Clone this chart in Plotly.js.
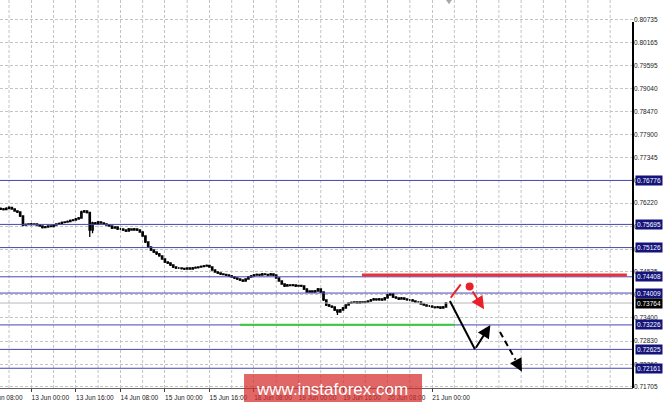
<!DOCTYPE html>
<html><head><meta charset="utf-8">
<script src="https://cdn.plot.ly/plotly-3.0.1.min.js"></script>
<style>html,body{margin:0;padding:0;background:#fff}#chart{width:665px;height:405px}</style>
</head><body><div id="chart"></div>
<script>
// ---- data (H1 bars) ----
const firstBar = '2018-06-12 13:00';
const openP = [
0.76086,0.76074,0.76062,0.76086,0.76111,0.76074,0.76025,0.76000,0.75902,0.75681,
0.75693,0.75706,0.75693,0.75706,0.75681,0.75656,0.75619,0.75632,0.75656,0.75644,
0.75681,0.75706,0.75718,0.75743,0.75755,0.75767,0.75792,0.75804,0.75828,0.75853,
0.76000,0.76025,0.75988,0.75558,0.75730,0.75706,0.75755,0.75730,0.75706,0.75681,
0.75656,0.75607,0.75632,0.75583,0.75583,0.75558,0.75534,0.75583,0.75558,0.75583,
0.75558,0.75509,0.75411,0.75263,0.75141,0.75067,0.75018,0.74969,0.74920,0.74846,
0.74772,0.74747,0.74698,0.74649,0.74624,0.74624,0.74612,0.74600,0.74624,0.74600,
0.74624,0.74637,0.74649,0.74661,0.74673,0.74686,0.74649,0.74575,0.74526,0.74501,
0.74477,0.74465,0.74452,0.74428,0.74403,0.74379,0.74354,0.74329,0.74305,0.74354,
0.74403,0.74428,0.74452,0.74465,0.74452,0.74477,0.74465,0.74452,0.74477,0.74452,
0.74379,0.74305,0.74231,0.74182,0.74207,0.74194,0.74207,0.74182,0.74194,0.74182,
0.74108,0.74035,0.74059,0.74035,0.74059,0.74108,0.74035,0.73839,0.73715,0.73690,
0.73666,0.73592,0.73543,0.73592,0.73641,0.73715,0.73764,0.73777,0.73789,0.73764,
0.73789,0.73777,0.73789,0.73813,0.73839,0.73863,0.73839,0.73863,0.73839,0.73888,
0.73961,0.73986,0.73912,0.73888,0.73863,0.73888,0.73863,0.73839,0.73839,0.73813,
0.73789,0.73789,0.73740,0.73715,0.73690,0.73690,0.73666,0.73654,0.73666,0.73641,
0.73666];
const highP = [
0.76110,0.76098,0.76115,0.76140,0.76130,0.76090,0.76045,0.76020,0.75915,0.75715,
0.75725,0.75730,0.75725,0.75720,0.75700,0.75670,0.75655,0.75675,0.75670,0.75700,
0.75725,0.75740,0.75765,0.75775,0.75790,0.75815,0.75830,0.75850,0.75880,0.76030,
0.76049,0.76040,0.76000,0.75760,0.75755,0.75780,0.75775,0.75745,0.75720,0.75695,
0.75670,0.75650,0.75645,0.75610,0.75600,0.75575,0.75605,0.75600,0.75605,0.75600,
0.75575,0.75525,0.75425,0.75280,0.75160,0.75085,0.75035,0.74990,0.74935,0.74860,
0.74790,0.74765,0.74715,0.74665,0.74650,0.74645,0.74630,0.74645,0.74640,0.74650,
0.74660,0.74670,0.74685,0.74700,0.74710,0.74705,0.74665,0.74590,0.74545,0.74520,
0.74495,0.74485,0.74470,0.74450,0.74420,0.74395,0.74370,0.74345,0.74375,0.74425,
0.74450,0.74475,0.74490,0.74485,0.74500,0.74495,0.74480,0.74500,0.74495,0.74470,
0.74395,0.74320,0.74250,0.74230,0.74225,0.74230,0.74225,0.74215,0.74210,0.74200,
0.74125,0.74080,0.74075,0.74085,0.74130,0.74120,0.74050,0.73855,0.73740,0.73710,
0.73685,0.73610,0.73615,0.73665,0.73735,0.73785,0.73800,0.73810,0.73805,0.73810,
0.73805,0.73810,0.73835,0.73860,0.73885,0.73880,0.73890,0.73880,0.73910,0.73985,
0.74010,0.74000,0.73930,0.73905,0.73910,0.73905,0.73880,0.73865,0.73860,0.73830,
0.73815,0.73805,0.73760,0.73735,0.73715,0.73710,0.73685,0.73690,0.73685,0.73690,
0.73790];
const lowP = [
0.76050,0.76038,0.76045,0.76070,0.76055,0.76005,0.75975,0.75880,0.75650,0.75660,
0.75675,0.75670,0.75675,0.75660,0.75635,0.75595,0.75600,0.75615,0.75625,0.75630,
0.75665,0.75690,0.75700,0.75725,0.75735,0.75750,0.75775,0.75785,0.75810,0.75840,
0.75985,0.75965,0.75386,0.75480,0.75685,0.75690,0.75710,0.75685,0.75660,0.75635,
0.75585,0.75590,0.75560,0.75560,0.75535,0.75510,0.75520,0.75540,0.75540,0.75535,
0.75490,0.75390,0.75240,0.75115,0.75045,0.74995,0.74945,0.74900,0.74825,0.74750,
0.74725,0.74675,0.74625,0.74600,0.74600,0.74590,0.74575,0.74580,0.74580,0.74585,
0.74605,0.74615,0.74630,0.74645,0.74655,0.74630,0.74555,0.74505,0.74480,0.74455,
0.74445,0.74430,0.74405,0.74385,0.74355,0.74330,0.74305,0.74280,0.74290,0.74340,
0.74385,0.74410,0.74435,0.74430,0.74435,0.74445,0.74430,0.74435,0.74430,0.74360,
0.74285,0.74210,0.74160,0.74165,0.74175,0.74175,0.74160,0.74165,0.74160,0.74085,
0.74015,0.74015,0.74015,0.74020,0.74045,0.74010,0.73815,0.73690,0.73665,0.73640,
0.73570,0.73469,0.73525,0.73575,0.73625,0.73700,0.73745,0.73760,0.73745,0.73745,
0.73760,0.73760,0.73770,0.73795,0.73820,0.73820,0.73820,0.73815,0.73825,0.73870,
0.73940,0.73890,0.73865,0.73840,0.73845,0.73840,0.73820,0.73815,0.73795,0.73770,
0.73765,0.73720,0.73695,0.73670,0.73665,0.73645,0.73630,0.73635,0.73620,0.73625,
0.73655];
const closeP = [
0.76074,0.76062,0.76086,0.76111,0.76074,0.76025,0.76000,0.75902,0.75681,0.75693,
0.75706,0.75693,0.75706,0.75681,0.75656,0.75619,0.75632,0.75656,0.75644,0.75681,
0.75706,0.75718,0.75743,0.75755,0.75767,0.75792,0.75804,0.75828,0.75853,0.76000,
0.76025,0.75988,0.75558,0.75730,0.75706,0.75755,0.75730,0.75706,0.75681,0.75656,
0.75607,0.75632,0.75583,0.75583,0.75558,0.75534,0.75583,0.75558,0.75583,0.75558,
0.75509,0.75411,0.75263,0.75141,0.75067,0.75018,0.74969,0.74920,0.74846,0.74772,
0.74747,0.74698,0.74649,0.74624,0.74624,0.74612,0.74600,0.74624,0.74600,0.74624,
0.74637,0.74649,0.74661,0.74673,0.74686,0.74649,0.74575,0.74526,0.74501,0.74477,
0.74465,0.74452,0.74428,0.74403,0.74379,0.74354,0.74329,0.74305,0.74354,0.74403,
0.74428,0.74452,0.74465,0.74452,0.74477,0.74465,0.74452,0.74477,0.74452,0.74379,
0.74305,0.74231,0.74182,0.74207,0.74194,0.74207,0.74182,0.74194,0.74182,0.74108,
0.74035,0.74059,0.74035,0.74059,0.74108,0.74035,0.73839,0.73715,0.73690,0.73666,
0.73592,0.73543,0.73592,0.73641,0.73715,0.73764,0.73777,0.73789,0.73764,0.73789,
0.73777,0.73789,0.73813,0.73839,0.73863,0.73839,0.73863,0.73839,0.73888,0.73961,
0.73986,0.73912,0.73888,0.73863,0.73888,0.73863,0.73839,0.73839,0.73813,0.73789,
0.73789,0.73740,0.73715,0.73690,0.73690,0.73666,0.73654,0.73666,0.73641,0.73666,
0.73764];

// price grid & labels
const gridPrices = [0.80735,0.80165,0.79595,0.79040,0.78470,0.77900,0.77345,0.76775,0.76220,0.75650,0.75080,0.74535,0.73965,0.73400,0.72830,0.72260,0.71705];
const gridLabels = ['0.80735','0.80165','0.79595','0.79040','0.78470','0.77900','0.77345','0.76775','0.76220','0.75650','0.75080','0.74535','0.73965','0.73400','0.72830','0.72260','0.71705'];
const levelPrices = [0.76776,0.75695,0.75126,0.74408,0.74009,0.73226,0.72625,0.72161];
const lastPrice = 0.73764;

// time axis
const tickDates = ['2018-06-13 00:00','2018-06-13 16:00','2018-06-14 08:00','2018-06-15 00:00','2018-06-15 16:00','2018-06-18 08:00','2018-06-19 00:00','2018-06-19 16:00','2018-06-20 08:00','2018-06-21 00:00'];
const tickLabels = ['13 Jun 00:00','13 Jun 16:00','14 Jun 08:00','15 Jun 00:00','15 Jun 16:00','18 Jun 08:00','19 Jun 00:00','19 Jun 16:00','20 Jun 08:00','21 Jun 00:00'];
const gridDates = ['2018-06-12 16:00','2018-06-13 08:00','2018-06-14 00:00','2018-06-14 16:00','2018-06-15 08:00',
  '2018-06-18 00:00','2018-06-18 16:00','2018-06-19 08:00','2018-06-20 00:00','2018-06-20 16:00',
  '2018-06-21 08:00','2018-06-21 16:00','2018-06-22 00:00','2018-06-22 08:00','2018-06-22 16:00',
  '2018-06-25 00:00','2018-06-25 08:00','2018-06-25 16:00'];
const xRange = ['2018-06-12 12:45','2018-06-26 00:12'];

// analyst drawings
const redLevelT = ['2018-06-19 22:48','2018-06-25 22:00'];
const redLevelP = [0.74452,0.74452];
const greenLevelT = ['2018-06-18 03:00','2018-06-21 08:12'];
const greenLevelP = [0.73232,0.73232];
const redUpT = ['2018-06-21 06:42','2018-06-21 10:18'];
const redUpP = [0.73894,0.74224];
const redDotT = ['2018-06-21 13:30'];
const redDotP = [0.74170];
const redArrowT = ['2018-06-21 14:12','2018-06-21 18:42'];
const redArrowP = [0.74084,0.73609];
const blackDownT = ['2018-06-21 06:24','2018-06-21 15:24'];
const blackDownP = [0.73813,0.72626];
const blackUpT = ['2018-06-21 15:24','2018-06-21 20:57'];
const blackUpP = [0.72626,0.73226];
const dashedT = ['2018-06-22 00:24','2018-06-22 06:00','2018-06-22 08:18'];
const dashedP = [0.73052,0.72370,0.72077];

function barTimes(start, n){
  const out=[]; let t = Date.parse(start.replace(' ','T')+':00Z');
  while(out.length<n){
    const d=new Date(t); const wd=d.getUTCDay();
    if(wd!==0 && wd!==6) out.push(d.toISOString().slice(0,16).replace('T',' '));
    t+=3600000;
  }
  return out;
}
const times = barTimes(firstBar, closeP.length);

const FONT = 'Liberation Sans, Arial, sans-serif';
const GRID = '#c4c4c4';

const traces = [
  {type:'candlestick', x:times, open:openP, high:highP, low:lowP, close:closeP,
   increasing:{line:{color:'#000',width:1.3}, fillcolor:'#ffffff'},
   decreasing:{line:{color:'#000',width:1.3}, fillcolor:'#000000'},
   whiskerwidth:0, hoverinfo:'skip'},
  {type:'scatter', mode:'markers', x:redDotT, y:redDotP,
   marker:{color:'#e8202a', size:8}, hoverinfo:'skip', cliponaxis:false}
];

const shapes = [];
gridDates.forEach(d=>shapes.push({type:'line', xref:'x', yref:'paper', x0:d, x1:d, y0:0, y1:1,
  line:{color:GRID, width:1, dash:'3px,2px'}, layer:'below'}));
levelPrices.forEach(p=>shapes.push({type:'line', xref:'paper', x0:0, x1:1, yref:'y', y0:p, y1:p,
  line:{color:'#4646b4', width:1}, layer:'above'}));
shapes.push({type:'line', xref:'paper', x0:0, x1:1, yref:'y', y0:lastPrice, y1:lastPrice,
  line:{color:'#b8b8b8', width:1}, layer:'above'});
shapes.push({type:'line', xref:'x', yref:'y', x0:redLevelT[0], x1:redLevelT[1], y0:redLevelP[0], y1:redLevelP[1],
  line:{color:'#e8323c', width:3}});
shapes.push({type:'line', xref:'x', yref:'y', x0:greenLevelT[0], x1:greenLevelT[1], y0:greenLevelP[0], y1:greenLevelP[1],
  line:{color:'#3cc83c', width:2}});
shapes.push({type:'line', xref:'x', yref:'y', x0:redUpT[0], x1:redUpT[1], y0:redUpP[0], y1:redUpP[1],
  line:{color:'#e8202a', width:2}});
shapes.push({type:'line', xref:'x', yref:'y', x0:blackDownT[0], x1:blackDownT[1], y0:blackDownP[0], y1:blackDownP[1],
  line:{color:'#000', width:2}});
shapes.push({type:'line', xref:'x', yref:'y', x0:dashedT[0], x1:dashedT[1], y0:dashedP[0], y1:dashedP[1],
  line:{color:'#000', width:2, dash:'6px,4px'}});
// right price-scale border
shapes.push({type:'line', xref:'paper', yref:'paper', x0:1, x1:1, y0:0, y1:0.943,
  line:{color:'#000', width:2}, layer:'above'});
// watermark box
shapes.push({type:'rect', xref:'paper', yref:'paper', x0:0.3855, x1:0.6667, y0:-0.036, y1:0.036,
  fillcolor:'rgba(214,45,45,0.72)', line:{width:0}, layer:'above'});
// shift marker
shapes.push({type:'path', xref:'paper', yref:'paper', path:'M 0.7046 1 L 0.7140 1 L 0.7093 0.989 Z',
  fillcolor:'#a8a8a8', line:{width:0}});

const annotations = [];
levelPrices.forEach(p=>annotations.push({xref:'paper', x:1, xanchor:'left', xshift:2, yref:'y', y:p, yanchor:'middle',
  text:p.toFixed(5), showarrow:false, bgcolor:'#14147a', borderpad:1,
  font:{family:FONT, size:6.5, color:'#ffffff'}}));
annotations.push({xref:'paper', x:1, xanchor:'left', xshift:2, yref:'y', y:lastPrice, yanchor:'middle',
  text:lastPrice.toFixed(5), showarrow:false, bgcolor:'#000000', borderpad:1,
  font:{family:FONT, size:6.5, color:'#ffffff'}});
annotations.push({xref:'paper', x:-0.0275, xanchor:'left', yref:'paper', y:0, yanchor:'top', yshift:-4,
  text:'12 Jun 08:00', showarrow:false, font:{family:FONT, size:6.5, color:'#202020'}});
// arrows
annotations.push({xref:'x', yref:'y', axref:'x', ayref:'y', x:redArrowT[1], y:redArrowP[1], ax:redArrowT[0], ay:redArrowP[0],
  text:'', showarrow:true, arrowhead:2, arrowsize:1.3, arrowwidth:2, arrowcolor:'#e8202a', standoff:0});
annotations.push({xref:'x', yref:'y', axref:'x', ayref:'y', x:blackUpT[1], y:blackUpP[1], ax:blackUpT[0], ay:blackUpP[0],
  text:'', showarrow:true, arrowhead:2, arrowsize:1.3, arrowwidth:2, arrowcolor:'#000', standoff:0});
annotations.push({xref:'x', yref:'y', axref:'x', ayref:'y', x:dashedT[2], y:dashedP[2], ax:dashedT[1], ay:dashedP[1],
  text:'', showarrow:true, arrowhead:2, arrowsize:1.3, arrowwidth:2, arrowcolor:'#000', standoff:0});
// watermark text
annotations.push({xref:'paper', yref:'paper', x:0.5237, y:-0.003, xanchor:'center', yanchor:'middle',
  text:'www.instaforex.com', showarrow:false, font:{family:FONT, size:17, color:'#ffffff'}});

const layout = {
  width:665, height:405,
  margin:{l:0, r:32, t:0, b:17, pad:0},
  paper_bgcolor:'#ffffff', plot_bgcolor:'#ffffff',
  showlegend:false,
  font:{family:FONT, size:6.5, color:'#202020'},
  xaxis:{type:'date', range:xRange, rangebreaks:[{bounds:['sat','mon']}],
    rangeslider:{visible:false},
    tickmode:'array', tickvals:tickDates, ticktext:tickLabels,
    ticks:'outside', ticklen:3, tickcolor:'#404040', tickwidth:1, ticklabelshift:19,
    tickfont:{family:FONT, size:6.5, color:'#202020'},
    showline:true, linecolor:'#606060', linewidth:1,
    showgrid:true, gridcolor:GRID, griddash:'3px,2px', gridwidth:1, zeroline:false,
    fixedrange:true},
  yaxis:{side:'right', range:[0.71676,0.81209], tickmode:'array', tickvals:gridPrices, ticktext:gridLabels,
    ticks:'', tickfont:{family:FONT, size:6.5, color:'#202020'},
    showline:false,
    showgrid:true, gridcolor:GRID, griddash:'3px,2px', gridwidth:1, zeroline:false, fixedrange:true},
  shapes:shapes, annotations:annotations
};

Plotly.newPlot('chart', traces, layout, {staticPlot:true, displayModeBar:false});
</script>
</body></html>
